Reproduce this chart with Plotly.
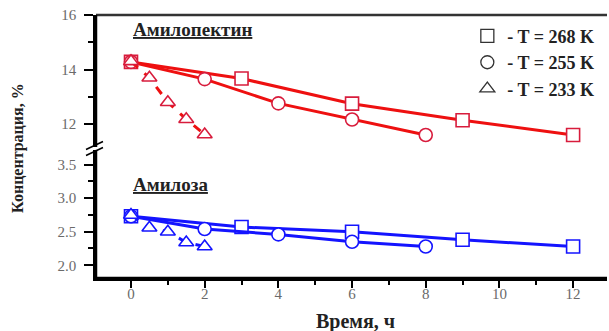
import plotly.graph_objects as go

# Amylopectin (top panel, red)
ap_268_x = [0, 3, 6, 9, 12]
ap_268_y = [14.28, 13.67, 12.75, 12.14, 11.6]
ap_255_x = [0, 2, 4, 6, 8]
ap_255_y = [14.28, 13.65, 12.76, 12.17, 11.6]
ap_233_x = [0, 0.5, 1, 1.5, 2]
ap_233_y = [14.3, 13.7, 12.8, 12.18, 11.62]

# Amylose (bottom panel, blue)
am_268_x = [0, 3, 6, 9, 12]
am_268_y = [2.73, 2.57, 2.5, 2.38, 2.28]
am_255_x = [0, 2, 4, 6, 8]
am_255_y = [2.73, 2.54, 2.46, 2.35, 2.28]
am_233_x = [0, 0.5, 1, 1.5, 2]
am_233_y = [2.75, 2.56, 2.5, 2.34, 2.28]

legend_names = ["- T = 268 K", "- T = 255 K", "- T = 233 K"]
symbols = ["square-open", "circle-open", "triangle-up-open"]

RED = "#ee1010"
RED_M = "#d81c3c"
BLUE = "#1414ff"
SERIF = "Liberation Serif, Times New Roman, serif"

fig = go.Figure()

def add(x, y, sym, col, mcol, yax, dash="solid"):
    fig.add_trace(go.Scatter(
        x=x, y=y, mode="lines+markers", yaxis=yax, showlegend=False,
        line=dict(color=col, width=3, dash=dash),
        marker=dict(symbol=sym.replace("-open", ""), size=13, color="white",
                    line=dict(color=mcol, width=1.6)),
    ))

add(ap_268_x, ap_268_y, symbols[0], RED, RED_M, "y2")
add(ap_255_x, ap_255_y, symbols[1], RED, RED_M, "y2")
add(ap_233_x, ap_233_y, symbols[2], RED, RED_M, "y2", dash="dash")
add(am_268_x, am_268_y, symbols[0], BLUE, BLUE, "y")
add(am_255_x, am_255_y, symbols[1], BLUE, BLUE, "y")
add(am_233_x, am_233_y, symbols[2], BLUE, BLUE, "y", dash="dash")

for name, sym in zip(legend_names, symbols):
    fig.add_trace(go.Scatter(
        x=[None], y=[None], mode="markers", name="<b>" + name + "</b>", yaxis="y2",
        marker=dict(symbol=sym, size=13, color="#333333", line=dict(width=1.3)),
    ))

tickfont = dict(family=SERIF, size=15, color="#6a6a6a")

fig.update_layout(
    template="none",
    width=609, height=331,
    margin=dict(l=96, r=2, t=15, b=53),
    paper_bgcolor="white", plot_bgcolor="white",
    xaxis=dict(range=[-0.95, 12.92], tickvals=[0, 2, 4, 6, 8, 10, 12],
               ticks="outside", ticklen=7, tickwidth=1.5, tickcolor="black",
               showline=True, linecolor="black", linewidth=2.5,
               showgrid=False, zeroline=False, tickfont=tickfont,
               ticklabelstandoff=-7,
               minor=dict(tickvals=[1, 3, 5, 7, 9, 11], ticks="outside",
                          ticklen=4, tickwidth=1.5, tickcolor="black"),
               anchor="y"),
    yaxis=dict(domain=[0, 0.487], range=[1.81, 3.72],
               tickvals=[2.0, 2.5, 3.0, 3.5], ticktext=["2.0", "2.5", "3.0", "3.5"],
               ticks="outside", ticklen=9, tickwidth=1.5, tickcolor="black",
               showline=True, linecolor="black", linewidth=2.5,
               showgrid=False, zeroline=False, tickfont=tickfont,
               ticklabelstandoff=5,
               minor=dict(tickvals=[2.25, 2.75, 3.25], ticks="outside",
                          ticklen=5, tickwidth=1.5, tickcolor="black")),
    yaxis2=dict(domain=[0.498, 1], range=[11.16, 16],
                tickvals=[12, 14, 16],
                ticks="outside", ticklen=9, tickwidth=1.5, tickcolor="black",
                showline=True, linecolor="black", linewidth=2.5,
                showgrid=False, zeroline=False, tickfont=tickfont,
                ticklabelstandoff=5,
                minor=dict(tickvals=[13, 15], ticks="outside",
                           ticklen=5, tickwidth=1.5, tickcolor="black"),
                anchor="x"),
    legend=dict(x=0.985, y=0.99, xanchor="right", yanchor="top",
                bgcolor="rgba(0,0,0,0)", itemwidth=30, tracegroupgap=0,
                font=dict(family=SERIF, size=18, color="#222222")),
    showlegend=True,
)

# frame lines (top, and explicit left/bottom)
fig.add_shape(type="line", xref="paper", yref="paper", x0=0, x1=1, y0=1, y1=1,
              line=dict(color="#333333", width=2.5))
fig.add_shape(type="line", xref="paper", yref="paper", x0=0, x1=1, y0=0, y1=0,
              line=dict(color="black", width=2.5))
fig.add_shape(type="line", xref="paper", yref="paper", x0=0, x1=0, y0=0, y1=0.487,
              line=dict(color="black", width=2.5))
fig.add_shape(type="line", xref="paper", yref="paper", x0=0, x1=0, y0=0.498, y1=1,
              line=dict(color="black", width=2.5))
# axis break marks
for dy in (-3, 3):
    fig.add_shape(type="line", xref="paper", yref="paper",
                  xsizemode="pixel", ysizemode="pixel", xanchor=0, yanchor=0.4925,
                  x0=-10, x1=7, y0=dy - 4, y1=dy + 4,
                  line=dict(color="black", width=1.5))

fig.add_annotation(text="<b><u>Амилопектин</u></b>", xref="x", yref="paper",
                   x=0.0, y=0.943, xanchor="left", yanchor="middle", showarrow=False,
                   font=dict(family=SERIF, size=19, color="#222222"))
fig.add_annotation(text="<b><u>Амилоза</u></b>", xref="x", yref="paper",
                   x=0.0, y=0.354, xanchor="left", yanchor="middle", showarrow=False,
                   font=dict(family=SERIF, size=19, color="#222222"))
fig.add_annotation(text="<b>Концентрация, %</b>", xref="paper", yref="paper",
                   x=-0.153, y=0.494, textangle=-90, xanchor="center", yanchor="middle",
                   showarrow=False,
                   font=dict(family=SERIF, size=16, color="#222222"))
fig.add_annotation(text="<b>Время, ч</b>", xref="paper", yref="paper",
                   x=0.507, y=-0.167, xanchor="center", yanchor="middle", showarrow=False,
                   font=dict(family=SERIF, size=20, color="#222222"))

fig.write_html("out.html", config={"displayModeBar": False},
               post_script="document.body.style.margin='0px';")
